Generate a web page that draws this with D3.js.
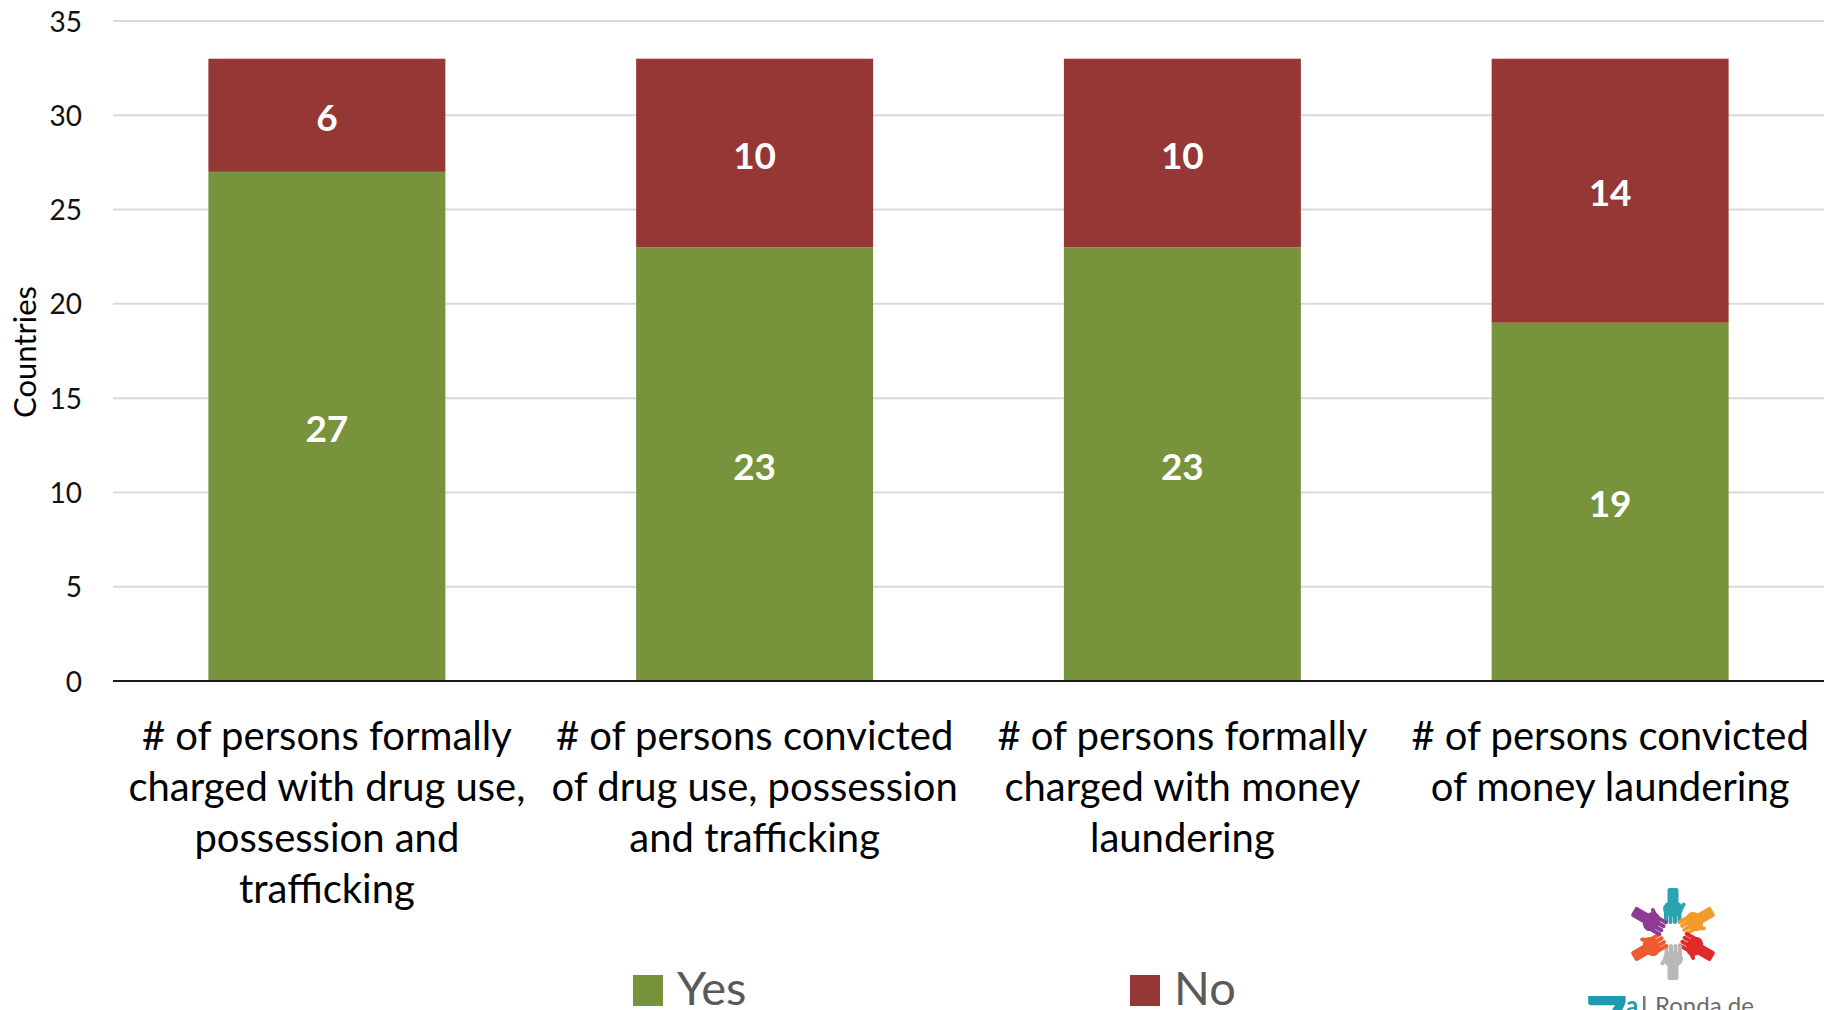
<!DOCTYPE html>
<html>
<head>
<meta charset="utf-8">
<script src="https://cdn.jsdelivr.net/npm/d3@7"></script>
<style>
html,body{margin:0;padding:0;background:#fff;}
svg{display:block;}
text{font-family:Lato,"Noto Sans",sans-serif;}
</style>
</head>
<body>
<svg id="chart" width="1830" height="1010"></svg>
<script>
// ---- data ----
const categories = [
  ["# of persons formally", "charged with drug use,", "possession and", "trafficking"],
  ["# of persons convicted", "of drug use, possession", "and trafficking"],
  ["# of persons formally", "charged with money", "laundering"],
  ["# of persons convicted", "of money laundering"]
];
const categoryKeys = ["c1", "c2", "c3", "c4"];
const yesValues = [27, 23, 23, 19];
const noValues = [6, 10, 10, 14];
const seriesNames = ["Yes", "No"];
const seriesColors = ["#77933C", "#953735"];
const yTicks = [0, 5, 10, 15, 20, 25, 30, 35];
const yTitle = "Countries";

// ---- layout ----
const svg = d3.select("#chart");
const plot = {left: 113, right: 1824, top: 21, bottom: 681};

const x = d3.scaleBand().domain(categoryKeys)
  .range([plot.left, plot.right]).paddingInner(0.446).paddingOuter(0.223);
const y = d3.scaleLinear().domain([0, 35]).range([plot.bottom, plot.top]);

// gridlines
svg.append("g").selectAll("line").data(yTicks.filter(t => t > 0)).join("line")
  .attr("x1", plot.left).attr("x2", plot.right)
  .attr("y1", d => y(d)).attr("y2", d => y(d))
  .attr("stroke", "#d9d9d9").attr("stroke-width", 2);

// y axis labels
const yAxis = d3.axisLeft(y).tickValues(yTicks).tickSize(0).tickPadding(0);
const yg = svg.append("g").attr("transform", `translate(82,0)`).call(yAxis);
yg.select(".domain").remove();
yg.selectAll("text").attr("font-family", "Lato").attr("font-size", 28)
  .attr("fill", "#111").attr("dy", "0.36em");

// stacked data
const stackData = categoryKeys.map((k, i) => ({key: k, Yes: yesValues[i], No: noValues[i]}));
const stack = d3.stack().keys(seriesNames)(stackData);

const layers = svg.append("g").selectAll("g").data(stack).join("g")
  .attr("fill", (d, i) => seriesColors[i]);
layers.selectAll("rect").data(d => d).join("rect")
  .attr("x", d => x(d.data.key))
  .attr("width", x.bandwidth())
  .attr("y", d => y(d[1]))
  .attr("height", d => y(d[0]) - y(d[1]));

// value labels
const lbl = svg.append("g");
stack.forEach(layer => {
  lbl.selectAll(null).data(layer).join("text")
    .attr("x", d => x(d.data.key) + x.bandwidth() / 2)
    .attr("y", d => (y(d[0]) + y(d[1])) / 2)
    .attr("dy", "0.42em")
    .attr("text-anchor", "middle")
    .attr("font-family", "Lato").attr("font-weight", "bold").attr("font-size", 37)
    .attr("fill", "#fff")
    .text(d => d[1] - d[0]);
});

// baseline
svg.append("line").attr("x1", plot.left).attr("x2", plot.right)
  .attr("y1", y(0)).attr("y2", y(0)).attr("stroke", "#1a1a1a").attr("stroke-width", 2);

// x category labels
const xl = svg.append("g");
categoryKeys.forEach((k, i) => {
  const t = xl.append("text")
    .attr("text-anchor", "middle")
    .attr("font-family", "Lato").attr("font-size", 40).attr("fill", "#000");
  categories[i].forEach((line, j) => {
    t.append("tspan").attr("x", x(k) + x.bandwidth() / 2).attr("y", 750 + j * 51).text(line);
  });
});

// y title
svg.append("text")
  .attr("transform", "translate(36,352) rotate(-90)")
  .attr("text-anchor", "middle")
  .attr("font-family", "Lato").attr("font-size", 31).attr("fill", "#000")
  .text(yTitle);

// legend
const legendX = [633, 1130];
const lg = svg.append("g");
seriesNames.forEach((s, i) => {
  lg.append("rect").attr("x", legendX[i]).attr("y", 975).attr("width", 30).attr("height", 31)
    .attr("fill", seriesColors[i]);
  lg.append("text").attr("x", legendX[i] + 44).attr("y", 1005)
    .attr("font-family", "Lato").attr("font-size", 47).attr("fill", "#595959")
    .text(s);
});

// logo (decorative)
const logo = svg.append("g").attr("transform", "translate(1673,934)");
const handColors = ["#2aa3b3", "#f39a2b", "#e12a2a", "#b8b8b8", "#ef5a2e", "#8e3b96"];
handColors.forEach((c, i) => {
  const h = logo.append("g").attr("transform", `rotate(${i * 60})`).attr("fill", c);
  h.append("rect").attr("x", -5.5).attr("y", -46).attr("width", 11).attr("height", 18).attr("rx", 2);
  h.append("ellipse").attr("cx", 0).attr("cy", -25).attr("rx", 10).attr("ry", 8);
  [-9, -4.5, 0, 4.5].forEach(fx => {
    h.append("rect").attr("x", fx).attr("y", -25).attr("width", 4).attr("height", 15).attr("rx", 2);
  });
  h.append("rect").attr("x", 7).attr("y", -32).attr("width", 4).attr("height", 12).attr("rx", 2)
    .attr("transform", "rotate(35,9,-27)");
});
svg.append("text").attr("x", 1585).attr("y", 1050)
  .attr("font-family", "Lato").attr("font-weight", "900").attr("font-size", 74).attr("fill", "#1e9bb0")
  .text("7");
svg.append("text").attr("x", 1626).attr("y", 1014)
  .attr("font-family", "Lato").attr("font-weight", "bold").attr("font-size", 24).attr("fill", "#1e9bb0")
  .text("a");
svg.append("rect").attr("x", 1643).attr("y", 996).attr("width", 2.5).attr("height", 14).attr("fill", "#777");
svg.append("text").attr("x", 1655).attr("y", 1014)
  .attr("font-family", "Lato").attr("font-size", 24).attr("fill", "#6b6b6b")
  .text("Ronda de");
</script>
</body>
</html>
